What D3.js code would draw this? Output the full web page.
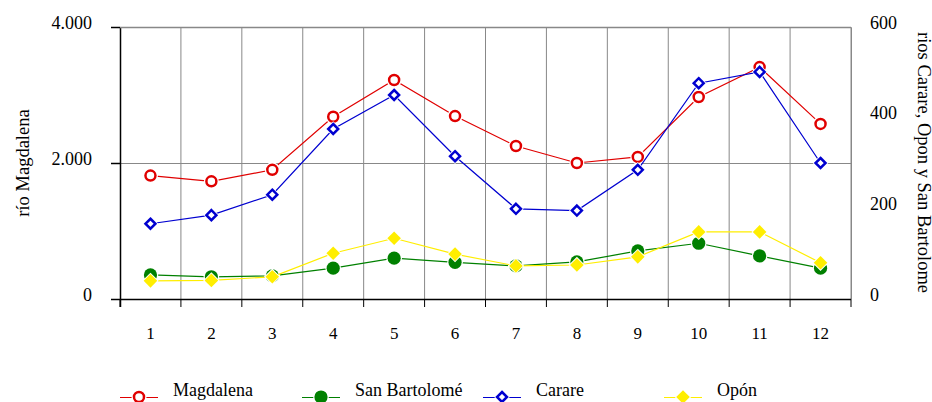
<!DOCTYPE html>
<html>
<head>
<meta charset="utf-8">
<script src="https://cdn.jsdelivr.net/npm/d3@7"></script>
<style>
html,body{margin:0;padding:0;background:#fff;overflow:hidden;}
svg, svg text{font-family:"Liberation Serif","Times New Roman",Times,"DejaVu Serif",serif !important;}
</style>
</head>
<body>
<svg id="chart" width="932" height="402"></svg>
<script>
const categories = ["1","2","3","4","5","6","7","8","9","10","11","12"];
const magdalena    = [1815, 1730, 1900, 2680, 3220, 2690, 2250, 2000, 2090, 2970, 3410, 2575];
const sanBartolome = [53, 49, 51, 68, 90, 81, 73, 82, 106, 123, 95, 68];
const carare       = [166, 185, 230, 375, 450, 315, 199, 195, 285, 476, 501, 300];
const opon         = [40, 41, 49, 101, 134, 99, 73, 75, 93, 148, 148, 80];
const leftTicks  = [0, 2000, 4000];
const rightTicks = [0, 200, 400, 600];
const seriesNames = ["Magdalena", "San Bartolomé", "Carare", "Opón"];
const leftTitle  = "río Magdalena";
const rightTitle = "rios Carare, Opon y San Bartolome";

const FONT = '"Liberation Serif","Times New Roman",Times,"DejaVu Serif",serif';
const svg = d3.select("#chart");
const L = 120, R = 851, T = 27, B = 299;

const x = d3.scaleBand().domain(categories).range([L, R]);
const yL = d3.scaleLinear().domain([0, 4000]).range([B, T]);
const yR = d3.scaleLinear().domain([0, 600]).range([B, T]);

const grid = "#888";
const bounds = categories.map(c => x(c)).concat([R]);

// vertical gridlines
svg.append("g").selectAll("line").data(bounds.slice(1)).join("line")
  .attr("x1", d => d).attr("x2", d => d).attr("y1", T).attr("y2", B)
  .attr("stroke", grid).attr("stroke-width", 1);
// horizontal gridlines (left ticks)
svg.append("g").selectAll("line").data(leftTicks.filter(d => d > 0)).join("line")
  .attr("x1", L).attr("x2", R).attr("y1", d => yL(d) + 0.5).attr("y2", d => yL(d) + 0.5)
  .attr("stroke", grid).attr("stroke-width", 1);

// bottom ticks at category boundaries
svg.append("g").selectAll("line").data(bounds).join("line")
  .attr("x1", d => d).attr("x2", d => d).attr("y1", B).attr("y2", B + 8)
  .attr("stroke", "#000").attr("stroke-width", 1);

// bottom axis line
svg.append("line").attr("x1", L).attr("x2", R).attr("y1", B + 0.5).attr("y2", B + 0.5)
  .attr("stroke", "#000").attr("stroke-width", 1.5);

// category labels via axis
const xAxis = svg.append("g").attr("transform", `translate(0,${B})`)
  .call(d3.axisBottom(x).tickSize(0).tickPadding(0));
xAxis.attr("font-family", FONT);
xAxis.select(".domain").remove();
xAxis.selectAll("text").attr("y", 40).attr("dy", 0)
  .style("font-family", FONT).style("font-size", "17px").attr("fill", "#000");

// left axis
const fmt = d => d3.format(",")(d).replace(/,/g, ".");
const leftAxis = svg.append("g").attr("transform", `translate(${L},0)`)
  .call(d3.axisLeft(yL).tickValues(leftTicks).tickSize(9).tickPadding(19).tickFormat(fmt));
leftAxis.attr("font-family", FONT);
leftAxis.select(".domain").attr("stroke", "#000").attr("stroke-width", 1.5)
  .attr("d", `M0.5,${T}V${B + 8}`);
leftAxis.selectAll(".tick line").attr("stroke", "#000").attr("stroke-width", 1.5);
leftAxis.selectAll("text").style("font-family", FONT).style("font-size", "18px")
  .attr("fill", "#000").attr("dy", "0.07em");

// right axis (labels only, gray frame line)
const rightAxis = svg.append("g").attr("transform", `translate(${R},0)`)
  .call(d3.axisRight(yR).tickValues(rightTicks).tickSize(0).tickPadding(19));
rightAxis.attr("font-family", FONT);
rightAxis.select(".domain").attr("stroke", grid).attr("stroke-width", 1);
rightAxis.selectAll("text").style("font-family", FONT).style("font-size", "18px")
  .attr("fill", "#000").attr("dy", "0.07em");

// top frame
svg.append("line").attr("x1", L).attr("x2", R).attr("y1", T + 0.5).attr("y2", T + 0.5)
  .attr("stroke", grid).attr("stroke-width", 1.5);

// axis titles
svg.append("text").attr("transform", `translate(29,163) rotate(-90)`)
  .attr("text-anchor", "middle").style("font-family", FONT).style("font-size", "18.5px")
  .attr("fill", "#000").text(leftTitle);
svg.append("text").attr("transform", `translate(918,32) rotate(90)`)
  .attr("text-anchor", "start").style("font-family", FONT).style("font-size", "18.5px")
  .attr("fill", "#000").text(rightTitle);

// marker drawing
function marker(g, type, color, cx, cy) {
  if (type === "circleOpen") {
    g.append("circle").attr("cx", cx).attr("cy", cy).attr("r", 7.5).attr("fill", "#fff");
    g.append("circle").attr("cx", cx).attr("cy", cy).attr("r", 5).attr("fill", "#fff")
      .attr("stroke", color).attr("stroke-width", 2.5);
  } else if (type === "circleFilled") {
    g.append("circle").attr("cx", cx).attr("cy", cy).attr("r", 7.8).attr("fill", "#fff");
    g.append("circle").attr("cx", cx).attr("cy", cy).attr("r", 6.6).attr("fill", color);
  } else if (type === "diamondOpen") {
    const s = 5;
    g.append("path").attr("d", `M${cx},${cy - s - 2.8}L${cx + s + 2.8},${cy}L${cx},${cy + s + 2.8}L${cx - s - 2.8},${cy}Z`).attr("fill", "#fff");
    g.append("path").attr("d", `M${cx},${cy - s}L${cx + s},${cy}L${cx},${cy + s}L${cx - s},${cy}Z`)
      .attr("fill", "#fff").attr("stroke", color).attr("stroke-width", 2.5);
  } else {
    const s = 6.8;
    g.append("path").attr("d", `M${cx},${cy - s - 1.4}L${cx + s + 1.4},${cy}L${cx},${cy + s + 1.4}L${cx - s - 1.4},${cy}Z`).attr("fill", "#fff");
    g.append("path").attr("d", `M${cx},${cy - s}L${cx + s},${cy}L${cx},${cy + s}L${cx - s},${cy}Z`)
      .attr("fill", color);
  }
}

const series = [
  { name: seriesNames[0], values: magdalena,    scale: yL, color: "#e00000", type: "circleOpen" },
  { name: seriesNames[1], values: sanBartolome, scale: yR, color: "#008000", type: "circleFilled" },
  { name: seriesNames[2], values: carare,       scale: yR, color: "#0000d0", type: "diamondOpen" },
  { name: seriesNames[3], values: opon,         scale: yR, color: "#ffee00", type: "diamondFilled" }
];

const cx = c => x(c) + x.bandwidth() / 2;
series.forEach(s => {
  const g = svg.append("g");
  const line = d3.line().x((d, i) => cx(categories[i])).y(d => s.scale(d));
  g.append("path").datum(s.values).attr("d", line).attr("fill", "none")
    .attr("stroke", s.color).attr("stroke-width", 1.2);
  s.values.forEach((v, i) => marker(g, s.type, s.color, cx(categories[i]), s.scale(v)));
});

// legend
const legX = [120, 302, 483, 664];
const legY = 397;
series.forEach((s, i) => {
  const g = svg.append("g");
  const x0 = legX[i];
  g.append("line").attr("x1", x0).attr("x2", x0 + 38).attr("y1", legY + 0.5).attr("y2", legY + 0.5)
    .attr("stroke", s.color).attr("stroke-width", 1.2);
  marker(g, s.type, s.color, x0 + 19, legY);
  g.append("text").attr("x", x0 + 53).attr("y", 396).style("font-family", FONT)
    .style("font-size", "18px").attr("fill", "#000").text(s.name);
});
</script>
</body>
</html>
